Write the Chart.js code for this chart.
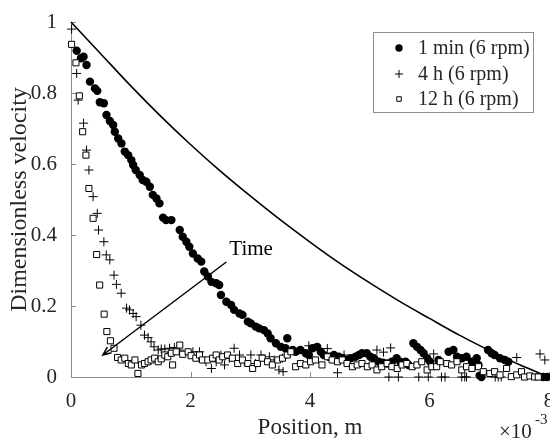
<!DOCTYPE html>
<html>
<head>
<meta charset="utf-8">
<script src="https://cdn.jsdelivr.net/npm/chart.js@4.4.1/dist/chart.umd.min.js"></script>
<style>
  html, body { margin: 0; padding: 0; background: #fff; }
  #velChart { display: block; }
</style>
</head>
<body>
<canvas id="velChart" width="550" height="443"></canvas>
<script>
// ---- data (position in 1e-3 m, dimensionless velocity) ----
const axisXTicks = [0, 2, 4, 6, 8];
const axisYTicks = [0, 0.2, 0.4, 0.6, 0.8, 1];

// theoretical profile (solid line)
const curveX = [0, 0.5, 1, 1.5, 2, 2.5, 3, 3.5, 4, 4.5, 5, 5.5, 6, 6.5, 7, 7.5, 8];
const curveY = [1, 0.91, 0.82, 0.735, 0.655, 0.58, 0.51, 0.443, 0.38, 0.32, 0.265, 0.213, 0.165, 0.118, 0.075, 0.035, 0];

// 1 min (6 rpm) - filled circles
const min1X = [0.095, 0.167, 0.21, 0.26, 0.317, 0.4, 0.44, 0.483, 0.55, 0.594, 0.65, 0.706, 0.733, 0.79, 0.845, 0.9, 0.956, 1.01, 1.04, 1.083,
  1.15, 1.2, 1.26, 1.32, 1.37, 1.43, 1.48, 1.54, 1.59, 1.68, 1.82, 1.87, 1.93, 1.98, 2.04, 2.12, 2.18, 2.23, 2.29, 2.35,
  2.43, 2.48, 2.51, 2.6, 2.68, 2.73, 2.82, 2.87, 2.96, 3.01, 3.09, 3.15, 3.23, 3.29, 3.34, 3.43, 3.51, 3.59, 3.62, 3.71,
  3.76, 3.84, 3.93, 3.98, 4.04, 4.12, 4.18, 4.23, 4.32, 4.4, 4.48, 4.54, 4.62, 4.68, 4.76, 4.82, 4.87, 4.95, 5.01, 5.07,
  5.15, 5.22, 5.29, 5.37, 5.45, 5.51, 5.6, 5.65, 5.73, 5.79, 5.85, 5.9, 5.96, 6.01, 6.15, 6.32, 6.4, 6.46, 6.54, 6.62,
  6.71, 6.79, 6.82, 6.84, 6.87, 6.98, 7.04, 7.09, 7.18, 7.26, 7.32, 7.9, 7.97];
const min1Y = [0.919, 0.898, 0.902, 0.879, 0.832, 0.813, 0.806, 0.774, 0.771, 0.738, 0.721, 0.71, 0.691, 0.672, 0.658, 0.635, 0.625, 0.611, 0.597, 0.583,
  0.569, 0.555, 0.55, 0.536, 0.513, 0.503, 0.489, 0.449, 0.442, 0.442, 0.414, 0.395, 0.381, 0.367, 0.348, 0.334, 0.325, 0.297, 0.283, 0.268,
  0.264, 0.259, 0.231, 0.212, 0.203, 0.189, 0.179, 0.175, 0.156, 0.151, 0.142, 0.137, 0.132, 0.123, 0.109, 0.095, 0.085, 0.081, 0.109, 0.076,
  0.071, 0.076, 0.067, 0.062, 0.081, 0.085, 0.071, 0.062, 0.057, 0.062, 0.057, 0.053, 0.048, 0.053, 0.057, 0.062, 0.067, 0.067, 0.057, 0.053,
  0.043, 0.04, 0.038, 0.043, 0.053, 0.043, 0.043, 0.034, 0.095, 0.085, 0.076, 0.067, 0.053, 0.043, 0.048, 0.071, 0.076, 0.057, 0.053, 0.057,
  0.043, 0.053, 0.034, 0.004, 0, 0.076, 0.067, 0.062, 0.053, 0.048, 0.043, 0, 0];

// 4 h (6 rpm) - crosses
const h4X = [0.01, 0.095, 0.12, 0.21, 0.26, 0.3, 0.37, 0.44, 0.46, 0.55, 0.59, 0.65, 0.72, 0.76, 0.84, 0.93, 0.98, 1.04, 1.09, 1.17,
  1.23, 1.29, 1.34, 1.39, 1.46, 1.51, 1.57, 1.65, 1.73, 1.82, 2.04, 2.15, 2.26, 2.35, 2.43, 2.51, 2.57, 2.65, 2.73, 2.82,
  2.9, 3.01, 3.09, 3.18, 3.32, 3.4, 3.48, 3.54, 3.55, 3.98, 4.29, 4.46, 4.57, 5.12, 5.23, 5.35, 5.32, 5.48, 5.82, 5.98,
  6.07, 6.2, 6.26, 6.54, 6.59, 6.62, 7.1, 7.15, 7.2, 7.46, 7.85, 7.93];
const h4Y = [0.98, 0.855, 0.78, 0.715, 0.639, 0.583, 0.508, 0.461, 0.414, 0.381, 0.344, 0.33, 0.287, 0.261, 0.236, 0.194, 0.189, 0.179, 0.17, 0.146,
  0.118, 0.111, 0.099, 0.085, 0.076, 0.079, 0.079, 0.081, 0.083, 0.076, 0.071, 0.071, 0.043, 0.024, 0.043, 0.062, 0.034, 0.053, 0.081, 0.062,
  0.043, 0.062, 0.038, 0.062, 0.057, 0.048, 0.02, 0.053, 0.015, 0.088, 0.08, 0.012, 0.062, 0.076, 0.07, 0.082, 0, 0, 0, 0,
  0.065, 0, 0, 0, 0, 0, 0, 0, 0, 0.055, 0.065, 0.048];

// 12 h (6 rpm) - open squares
const h12X = [0.01, 0.083, 0.14, 0.195, 0.25, 0.3, 0.37, 0.43, 0.48, 0.555, 0.6, 0.66, 0.72, 0.78, 0.84, 0.9, 0.96, 1.01, 1.07, 1.12,
  1.18, 1.23, 1.29, 1.34, 1.4, 1.46, 1.51, 1.57, 1.62, 1.68, 1.7, 1.76, 1.82, 1.87, 1.96, 2.01, 2.09, 2.15, 2.2, 2.29,
  2.37, 2.43, 2.48, 2.54, 2.62, 2.7, 2.79, 2.87, 2.96, 3.04, 3.12, 3.2, 3.29, 3.37, 3.46, 3.54, 3.62, 3.68, 3.76, 3.84,
  3.93, 4.01, 4.09, 4.2, 4.29, 4.37, 4.46, 4.54, 4.62, 4.71, 4.79, 4.87, 4.96, 5.04, 5.12, 5.2, 5.29, 5.37, 5.46, 5.54,
  5.62, 5.71, 5.79, 5.87, 5.96, 6.04, 6.12, 6.18, 6.29, 6.37, 6.46, 6.54, 6.62, 6.71, 6.82, 6.9, 7.01, 7.09, 7.18, 7.29,
  7.37, 7.46, 7.54, 7.59, 7.68, 7.76, 7.82];
const h12Y = [0.937, 0.885, 0.792, 0.691, 0.625, 0.531, 0.447, 0.345, 0.259, 0.177, 0.128, 0.102, 0.081, 0.055, 0.048, 0.053, 0.038, 0.034, 0.048, 0.01,
  0.034, 0.038, 0.043, 0.048, 0.053, 0.043, 0.051, 0.062, 0.057, 0.067, 0.034, 0.071, 0.09, 0.064, 0.071, 0.06, 0.053, 0.062, 0.048, 0.048,
  0.053, 0.062, 0.048, 0.057, 0.062, 0.053, 0.038, 0.048, 0.038, 0.024, 0.038, 0.053, 0.043, 0.034, 0.048, 0.053, 0.062, 0.071, 0.029, 0.038,
  0.034, 0.043, 0.048, 0.034, 0.057, 0.048, 0.043, 0.048, 0.038, 0.029, 0.034, 0.038, 0.029, 0.034, 0.02, 0.029, 0.038, 0.029, 0.024, 0.034,
  0.038, 0.029, 0.034, 0.043, 0.02, 0.029, 0.029, 0.043, 0.038, 0.034, 0.043, 0.02, 0.029, 0.024, 0.029, 0.015, 0.01, 0.015, 0.006, 0.024,
  0.001, 0.006, 0.015, 0, 0.003, 0, 0];

const seriesLabels = ['1 min (6 rpm)', '4 h (6 rpm)', '12 h (6 rpm)'];

// arrow annotation (data coords)
const arrowFrom = [2.6, 0.324];
const arrowTo = [0.533, 0.062];
const arrowText = 'Time';
const arrowTextAt = [2.65, 0.36];

function pairs(xs, ys) {
    return xs.map((v, i) => ({ x: v, y: ys[i] }));
}

const FONT = "'Liberation Serif', 'Times New Roman', serif";
const TEXT = '#262626';
const AXIS = '#8c8c8c';

Chart.defaults.font.family = FONT;
Chart.defaults.color = TEXT;

// inward tick marks, like the matlab style axes
const tickMarks = {
    id: 'tickMarks',
    beforeDatasetsDraw(chart) {
        const { ctx, chartArea, scales } = chart;
        ctx.save();
        ctx.strokeStyle = AXIS;
        ctx.lineWidth = 1;
        scales.x.ticks.forEach(t => {
            const px = Math.round(scales.x.getPixelForValue(t.value)) + 0.5;
            ctx.beginPath();
            ctx.moveTo(px, chartArea.bottom);
            ctx.lineTo(px, chartArea.bottom - 5);
            ctx.stroke();
        });
        scales.y.ticks.forEach(t => {
            const py = Math.round(scales.y.getPixelForValue(t.value)) + 0.5;
            ctx.beginPath();
            ctx.moveTo(chartArea.left, py);
            ctx.lineTo(chartArea.left + 5, py);
            ctx.stroke();
        });
        ctx.restore();
    }
};

// arrow, legend box and exponent label
const extras = {
    id: 'extras',
    afterDraw(chart) {
        const { ctx, scales: { x, y } } = chart;
        ctx.save();

        // Time arrow
        const x0 = x.getPixelForValue(arrowFrom[0]), y0 = y.getPixelForValue(arrowFrom[1]);
        const x1 = x.getPixelForValue(arrowTo[0]), y1 = y.getPixelForValue(arrowTo[1]);
        ctx.strokeStyle = '#000';
        ctx.lineWidth = 1.5;
        ctx.beginPath();
        ctx.moveTo(x0, y0);
        ctx.lineTo(x1, y1);
        const ang = Math.atan2(y1 - y0, x1 - x0);
        const head = 9;
        ctx.moveTo(x1 - head * Math.cos(ang - 0.4), y1 - head * Math.sin(ang - 0.4));
        ctx.lineTo(x1, y1);
        ctx.lineTo(x1 - head * Math.cos(ang + 0.4), y1 - head * Math.sin(ang + 0.4));
        ctx.stroke();

        ctx.fillStyle = '#000';
        ctx.font = '21px ' + FONT;
        ctx.textAlign = 'left';
        ctx.textBaseline = 'middle';
        ctx.fillText(arrowText, x.getPixelForValue(arrowTextAt[0]), y.getPixelForValue(arrowTextAt[1]));

        // legend
        const lx = 373.5, ly = 32.5, lw = 160, lh = 80;
        ctx.fillStyle = '#fff';
        ctx.fillRect(lx, ly, lw, lh);
        ctx.strokeStyle = AXIS;
        ctx.lineWidth = 1;
        ctx.strokeRect(lx, ly, lw, lh);
        const rows = [48, 74, 99];
        chart.data.datasets.slice(0, 3).forEach((ds, i) => {
            ctx.fillStyle = ds.backgroundColor;
            ctx.strokeStyle = ds.borderColor;
            ctx.lineWidth = ds.borderWidth;
            Chart.helpers.drawPoint(ctx, {
                pointStyle: ds.pointStyle,
                radius: i === 2 ? 3.2 : ds.pointRadius - 0.5,
                borderWidth: ds.borderWidth,
                rotation: 0
            }, 399, rows[i]);
            ctx.fillStyle = TEXT;
            ctx.font = '20px ' + FONT;
            ctx.textAlign = 'left';
            ctx.textBaseline = 'middle';
            ctx.fillText(ds.label, 418, rows[i] + 1);
        });

        // x10^-3 exponent
        ctx.fillStyle = TEXT;
        ctx.textAlign = 'left';
        ctx.textBaseline = 'middle';
        ctx.font = '21px ' + FONT;
        ctx.fillText('\u00d710', 499, 432);
        ctx.font = '15px ' + FONT;
        ctx.fillText('-3', 535, 420);

        ctx.restore();
    }
};

// keep the plot box fixed: no extra room for the last tick label
function fixX(s) {
    s.height = 66;
    s.paddingLeft = 0;
    s.paddingRight = 0;
}
function fixY(s) {
    s.width = 71;
    s.paddingTop = 0;
    s.paddingBottom = 0;
}

const ctx = document.getElementById('velChart').getContext('2d');

window.velChart = new Chart(ctx, {
    type: 'scatter',
    data: {
        datasets: [
            {
                label: seriesLabels[0],
                data: pairs(min1X, min1Y),
                pointStyle: 'circle',
                pointRadius: 4.2,
                backgroundColor: '#000',
                borderColor: '#000',
                borderWidth: 0,
                clip: false,
                order: 2
            },
            {
                label: seriesLabels[1],
                data: pairs(h4X, h4Y),
                pointStyle: 'cross',
                pointRadius: 4.5,
                backgroundColor: '#000',
                borderColor: '#000',
                borderWidth: 1,
                clip: false,
                order: 1
            },
            {
                label: seriesLabels[2],
                data: pairs(h12X, h12Y),
                pointStyle: 'rect',
                pointRadius: 4.3,
                backgroundColor: '#fff',
                borderColor: '#000',
                borderWidth: 1,
                clip: false,
                order: 0
            },
            {
                label: 'model',
                data: pairs(curveX, curveY),
                showLine: true,
                pointRadius: 0,
                borderColor: '#000',
                borderWidth: 1.6,
                cubicInterpolationMode: 'monotone',
                fill: false,
                clip: false,
                order: 3
            }
        ]
    },
    options: {
        responsive: false,
        animation: false,
        events: [],
        layout: {
            autoPadding: false,
            padding: { left: 0, top: 22, right: 1, bottom: 0 }
        },
        plugins: {
            legend: { display: false },
            tooltip: { enabled: false }
        },
        scales: {
            x: {
                type: 'linear',
                min: 0,
                max: 8,
                afterFit: fixX,
                afterBuildTicks: s => { s.ticks = axisXTicks.map(v => ({ value: v })); },
                ticks: {
                    padding: 4,
                    color: TEXT,
                    font: { size: 21 },
                    maxRotation: 0,
                    callback: v => String(v)
                },
                grid: { display: false },
                border: { display: true, color: AXIS, width: 1 },
                title: {
                    display: true,
                    text: 'Position, m',
                    color: TEXT,
                    font: { size: 23 },
                    padding: { top: 0, bottom: 1 }
                }
            },
            y: {
                type: 'linear',
                min: 0,
                max: 1,
                afterFit: fixY,
                afterBuildTicks: s => { s.ticks = axisYTicks.map(v => ({ value: v })); },
                ticks: {
                    padding: 6,
                    color: TEXT,
                    font: { size: 21 },
                    callback: v => String(Math.round(v * 10) / 10)
                },
                grid: { display: false },
                border: { display: true, color: AXIS, width: 1 },
                title: {
                    display: true,
                    text: 'Dimensionless velocity',
                    color: TEXT,
                    font: { size: 24 },
                    padding: { top: 5, bottom: 0 }
                }
            }
        }
    },
    plugins: [tickMarks, extras]
});
</script>
</body>
</html>
